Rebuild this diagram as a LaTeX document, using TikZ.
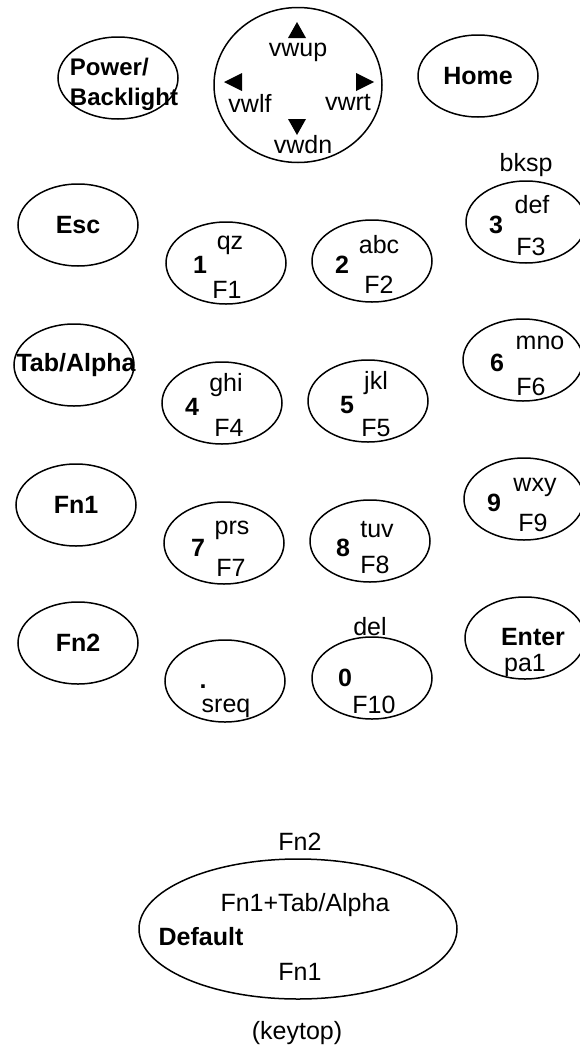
\documentclass[tikz,border=0pt]{standalone}
\usepackage{fontspec}
\setmainfont{Liberation Sans}
\usetikzlibrary{shapes.geometric}

\tikzstyle{key} = [ellipse, draw, line width=1.5pt, minimum width=120pt, minimum height=82pt, inner sep=0pt, font=\fontsize{25}{30}\selectfont\bfseries]
\tikzstyle{txt} = [inner sep=0pt]
\tikzstyle{num} = [inner sep=0pt, font=\fontsize{25}{30}\selectfont\bfseries]
\tikzstyle{tri} = [fill=black]

\begin{document}
\begin{tikzpicture}[x=1pt, y=-1pt, font=\fontsize{25}{30}\selectfont]
\useasboundingbox (0,0) rectangle (580,1055);
%begin row0
\node[key] (power) at (118,78) {};
\node[num, align=left, font=\fontsize{24}{30}\selectfont\bfseries] (powertxt) at (124,84) {Power/\\Backlight};
\node[key, minimum width=168pt, minimum height=155pt] (joy) at (298,85) {};
\fill[tri, shift={(297,30)}] (-9,8) -- (9,8) -- (0,-8) -- cycle;
\fill[tri, shift={(233,82)}] (9,-9) -- (9,9) -- (-9,0) -- cycle;
\fill[tri, shift={(365,82)}] (-9,-9) -- (-9,9) -- (9,0) -- cycle;
\fill[tri, shift={(297,127)}] (-9,-8) -- (9,-8) -- (0,8) -- cycle;
\node[txt] (vwup) at (298,52) {vwup};
\node[txt] (vwlf) at (250,103) {vwlf};
\node[txt] (vwrt) at (348,103) {vwrt};
\node[txt] (vwdn) at (303,145) {vwdn};
\node[key] (home) at (478,76) {Home};
%end row0
%begin row1
\node[key] (esc) at (78,225) {Esc};
\node[key] (k1) at (226,263) {};
\node[num] (k1num) at ([shift={(-26,2)}]k1.center) {1};
\node[txt] (k1abc) at ([shift={(4,-18)}]k1.center) {qz};
\node[txt] (k1fn) at ([shift={(1,27)}]k1.center) {F1};
\node[key] (k2) at (372,261) {};
\node[num] (k2num) at ([shift={(-30,4)}]k2.center) {2};
\node[txt] (k2abc) at ([shift={(7,-16)}]k2.center) {abc};
\node[txt] (k2fn) at ([shift={(7,24)}]k2.center) {F2};
\node[key] (k3) at (526,222) {};
\node[num] (k3num) at ([shift={(-30,3)}]k3.center) {3};
\node[txt] (k3abc) at ([shift={(6,-17)}]k3.center) {def};
\node[txt] (k3fn) at ([shift={(5,25)}]k3.center) {F3};
\node[txt] (bksp) at ([shift={(0,-57)}]k3.center) {bksp};
%end row1
%begin row2
\node[key] (tab) at (74,365) {};
\node[num] (tabtxt) at (76,365) {Tab/Alpha};
\node[key] (k4) at (222,403) {};
\node[num] (k4num) at ([shift={(-30,4)}]k4.center) {4};
\node[txt] (k4abc) at ([shift={(4,-18)}]k4.center) {ghi};
\node[txt] (k4fn) at ([shift={(7,25)}]k4.center) {F4};
\node[key] (k5) at (368,401) {};
\node[num] (k5num) at ([shift={(-21,4)}]k5.center) {5};
\node[txt] (k5abc) at ([shift={(8,-18)}]k5.center) {jkl};
\node[txt] (k5fn) at ([shift={(8,27)}]k5.center) {F5};
\node[key] (k6) at (523,360) {};
\node[num] (k6num) at ([shift={(-26,3)}]k6.center) {6};
\node[txt] (k6abc) at ([shift={(17,-17)}]k6.center) {mno};
\node[txt] (k6fn) at ([shift={(8,27)}]k6.center) {F6};
%end row2
%begin row3
\node[key] (fnone) at (76,505) {Fn1};
\node[key] (k7) at (224,543) {};
\node[num] (k7num) at ([shift={(-26,5)}]k7.center) {7};
\node[txt] (k7abc) at ([shift={(8,-13)}]k7.center) {prs};
\node[txt] (k7fn) at ([shift={(7,25)}]k7.center) {F7};
\node[key] (k8) at (370,541) {};
\node[num] (k8num) at ([shift={(-27,7)}]k8.center) {8};
\node[txt] (k8abc) at ([shift={(7,-11)}]k8.center) {tuv};
\node[txt] (k8fn) at ([shift={(5,24)}]k8.center) {F8};
\node[key] (k9) at (524,499) {};
\node[num] (k9num) at ([shift={(-30,4)}]k9.center) {9};
\node[txt] (k9abc) at ([shift={(11,-12)}]k9.center) {wxy};
\node[txt] (k9fn) at ([shift={(9,24)}]k9.center) {F9};
%end row3
%begin row4
\node[key] (fntwo) at (78,643) {Fn2};
\node[key] (kdot) at (225,681) {};
\node[num] (kdotnum) at ([shift={(-22,6)}]kdot.center) {.};
\node[txt] (kdotfn) at ([shift={(1,27)}]kdot.center) {sreq};
\node[key] (k0) at (372,678) {};
\node[num] (k0num) at ([shift={(-27,0)}]k0.center) {0};
\node[txt] (k0fn) at ([shift={(2,27)}]k0.center) {F10};
\node[txt] (del) at ([shift={(-2,-51)}]k0.center) {del};
\node[key] (enter) at (525,638) {};
\node[num] (entertxt) at ([shift={(8,-1)}]enter.center) {Enter};
\node[txt] (enterfn) at ([shift={(0,27)}]enter.center) {pa1};
%end row4
%begin keytop
\node[key, minimum width=318pt, minimum height=140pt] (keytop) at (298,929) {};
\node[txt] (kttop) at ([shift={(2,-87)}]keytop.center) {Fn2};
\node[txt] (ktmid) at ([shift={(7,-24)}]keytop.center) {Fn1+Tab/Alpha};
\node[num] (ktleft) at ([shift={(-97,8)}]keytop.center) {Default};
\node[txt] (ktbot) at ([shift={(2,43)}]keytop.center) {Fn1};
\node[txt] (ktcap) at ([shift={(-1,104)}]keytop.center) {(keytop)};
%end keytop
\end{tikzpicture}
\end{document}
